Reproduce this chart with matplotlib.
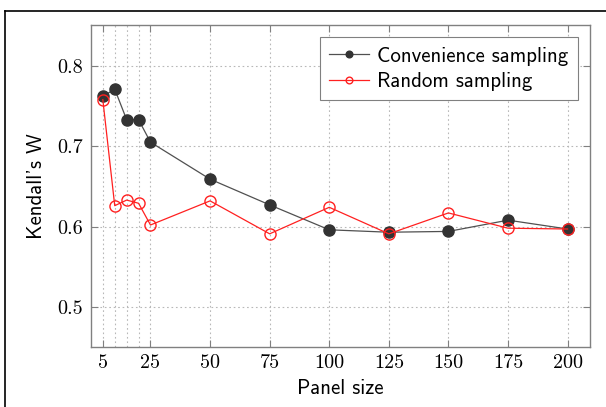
import matplotlib
matplotlib.use("Agg")
import matplotlib.pyplot as plt
from matplotlib.lines import Line2D

panel_sizes = [5, 10, 15, 20, 25, 50, 75, 100, 125, 150, 175, 200]
convenience = [0.762, 0.771, 0.733, 0.733, 0.705, 0.659, 0.627, 0.596, 0.593, 0.594, 0.608, 0.597]
random_s = [0.758, 0.626, 0.633, 0.629, 0.602, 0.632, 0.591, 0.624, 0.591, 0.617, 0.598, 0.597]
xticks = [5, 25, 50, 75, 100, 125, 150, 175, 200]
xgrid = [5, 10, 15, 20, 25, 50, 75, 100, 125, 150, 175, 200]
yticks = [0.5, 0.6, 0.7, 0.8]

plt.rcParams['axes.unicode_minus'] = False
fig = plt.figure(figsize=(6.06, 4.07), dpi=100)
ax = fig.add_axes([0.150, 0.147, 0.824, 0.792])

for xv in xgrid:
    ax.axvline(xv, color='#b8b8b8', linestyle=(0, (1.5, 2.5)), linewidth=0.8, zorder=0)
for yv in yticks:
    ax.axhline(yv, color='#b8b8b8', linestyle=(0, (1.5, 2.5)), linewidth=0.8, zorder=0)

ax.plot(panel_sizes, convenience, color='#505050', linewidth=0.9, marker='o',
        markersize=8, markerfacecolor='#333333', markeredgecolor='#333333',
        label='Convenience sampling', zorder=3)
ax.plot(panel_sizes, random_s, color='#ff2020', linewidth=0.9, marker='o',
        markersize=8, markerfacecolor='none', markeredgecolor='#ff2020',
        label='Random sampling', zorder=4)

ax.set_xlim(0, 209.5)
ax.set_ylim(0.45, 0.851)
ax.set_xticks(xticks)
ax.set_yticks(yticks)
ax.set_xticklabels([str(v) for v in xticks], family='cmr10', fontsize=14.5)
ax.set_yticklabels([f"{v:.1f}" for v in yticks], family='cmr10', fontsize=14.5)
ax.tick_params(direction='in', top=True, right=True, length=5, color='#808080', width=0.8)
ax.tick_params(axis='x', pad=5)
ax.tick_params(axis='y', pad=6)
for s in ax.spines.values():
    s.set_color('#808080')
    s.set_linewidth(1.0)

ax.set_xlabel('Panel size', family='cmss10', fontsize=15, labelpad=5)
ax.set_ylabel("Kendall's W", family='cmss10', fontsize=15, labelpad=8)

leg = ax.legend(loc='upper right', prop={'family': 'cmss10', 'size': 15},
                fancybox=False, edgecolor='#808080', framealpha=1,
                handlelength=1.9, borderaxespad=0.6, handletextpad=0.4,
                labelspacing=0.3, borderpad=0.45, markerscale=0.6)
leg.get_frame().set_linewidth(0.8)

# outer frame (left and top edges)
fig.add_artist(Line2D([0.009, 0.009], [0, 0.973], color='black', linewidth=1.2, transform=fig.transFigure))
fig.add_artist(Line2D([0.009, 1.0], [0.973, 0.973], color='black', linewidth=1.2, transform=fig.transFigure))

fig.savefig('out.png', dpi=100)
